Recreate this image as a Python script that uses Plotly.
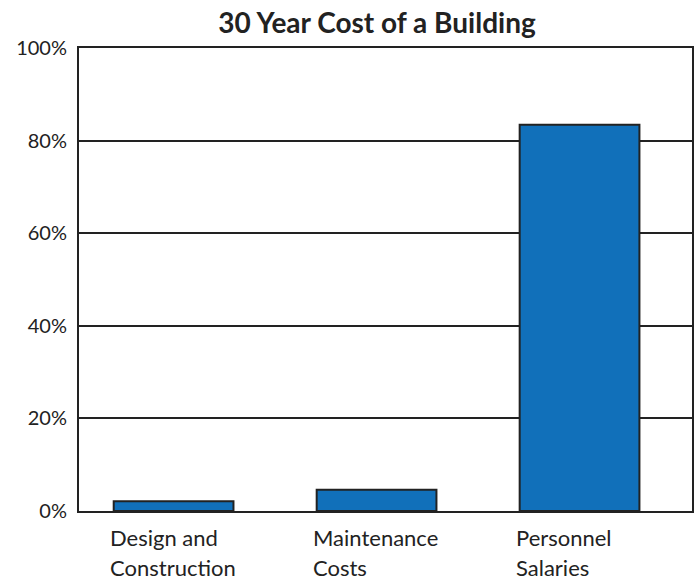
import plotly.graph_objects as go

categories = ["Design and Construction", "Maintenance Costs", "Personnel Salaries"]
label_lines = [["Design and", "Construction"], ["Maintenance", "Costs"], ["Personnel", "Salaries"]]
values = [2.1, 4.6, 83.4]
y_ticks = [0, 20, 40, 60, 80, 100]
y_tick_text = [f"{v}%" for v in y_ticks]
title = "30 Year Cost of a Building"

FONT = "Lato, Open Sans, sans-serif"

fig = go.Figure(go.Bar(
    x=categories, y=values,
    marker=dict(color="#1170ba", line=dict(color="#222222", width=2)),
    width=0.59,
))

annotations = []
for cat, lines in zip(categories, label_lines):
    for i, line in enumerate(lines):
        annotations.append(dict(
            x=cat, xref="x", y=0, yref="paper", yanchor="top",
            yshift=-11 - 30 * i, text=line, showarrow=False,
            width=128, align="left",
            font=dict(family=FONT, size=22, color="#222222"),
        ))

fig.update_layout(
    width=699, height=580,
    margin=dict(l=79, r=5, t=48, b=69),
    paper_bgcolor="white", plot_bgcolor="white",
    title=dict(text="<b>" + title + "</b>", x=377 / 699, xanchor="center",
               y=1 - 23 / 580, yanchor="middle",
               font=dict(family=FONT, size=28, color="#222222")),
    showlegend=False,
    annotations=annotations,
    xaxis=dict(range=[-0.466, 2.554], showticklabels=False, showline=True,
               linecolor="#222222", linewidth=2, mirror=True, ticks="", showgrid=False),
    yaxis=dict(range=[0, 100], tickvals=y_ticks, ticktext=y_tick_text, showline=True,
               linecolor="#222222", linewidth=2, mirror=True, ticks="",
               showgrid=True, gridcolor="#222222", gridwidth=1.5, zeroline=False,
               tickfont=dict(family=FONT, size=20, color="#222222"), ticklabelstandoff=6),
)

fig.write_html("out.html", config={"displayModeBar": False},
               post_script="document.body.style.margin='0';")
